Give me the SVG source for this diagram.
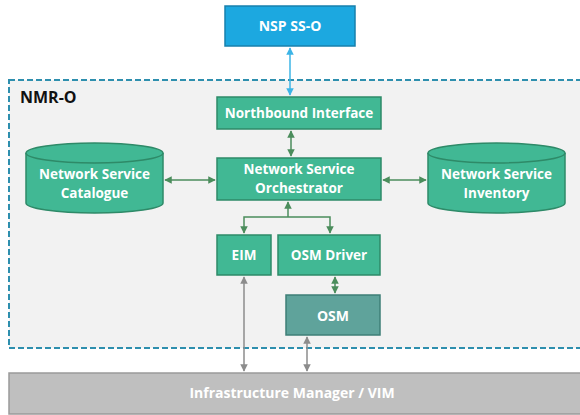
<svg xmlns="http://www.w3.org/2000/svg" width="580" height="415" viewBox="0 0 580 415">
<defs>
<style>
.box{fill:#41b894;stroke:#2e8a68;stroke-width:1.5}
.t{font-family:"Open Sans","Liberation Sans",sans-serif;font-weight:bold;font-size:13.5px;fill:#ffffff;text-anchor:middle}
.g{fill:none;stroke:#4b8d5c;stroke-width:1.5}
.gr{fill:none;stroke:#8c8c8c;stroke-width:1.5}
.bl{fill:none;stroke:#3cb4e6;stroke-width:1.5}
</style>
<marker id="ag" viewBox="0 0 10 10" refX="9" refY="5" markerWidth="5" markerHeight="5" orient="auto-start-reverse"><path d="M0,0L10,5L0,10z" fill="#4b8d5c"/></marker>
<marker id="agr" viewBox="0 0 10 10" refX="9" refY="5" markerWidth="5" markerHeight="5" orient="auto-start-reverse"><path d="M0,0L10,5L0,10z" fill="#8c8c8c"/></marker>
<marker id="abl" viewBox="0 0 10 10" refX="9" refY="5" markerWidth="5" markerHeight="5" orient="auto-start-reverse"><path d="M0,0L10,5L0,10z" fill="#3cb4e6"/></marker>
</defs>
<rect width="580" height="415" fill="#ffffff"/>
<g id="nmr-o">
<rect x="9" y="80" width="580" height="268" fill="#f2f2f2" stroke="#2e8fae" stroke-width="2" stroke-dasharray="6,3"/>
<text x="20" y="103" font-family="Open Sans, Liberation Sans, sans-serif" font-weight="bold" font-size="16" fill="#111111">NMR-O</text>
</g>
<g id="vim">
<rect x="9" y="373" width="580" height="41" fill="#bfbfbf" stroke="#9a9a9a" stroke-width="1.5"/>
<text class="t" x="292" y="398" style="font-size:14px" fill="#f4f4f4">Infrastructure Manager / VIM</text>
</g>
<g id="connectors">
<line class="bl" x1="290" y1="48" x2="290" y2="95" marker-start="url(#abl)" marker-end="url(#abl)"/>
<line class="g" x1="291" y1="131" x2="291" y2="156" marker-start="url(#ag)" marker-end="url(#ag)"/>
<line class="g" x1="165" y1="180" x2="215" y2="180" marker-start="url(#ag)" marker-end="url(#ag)"/>
<line class="g" x1="383" y1="180" x2="426" y2="180" marker-start="url(#ag)" marker-end="url(#ag)"/>
<line class="g" x1="288" y1="217" x2="288" y2="202" marker-end="url(#ag)"/>
<polyline class="g" points="244,233 244,217 330,217 330,233" marker-start="url(#ag)" marker-end="url(#ag)"/>
<line class="g" x1="335" y1="277" x2="335" y2="293" marker-start="url(#ag)" marker-end="url(#ag)"/>
<line class="gr" x1="244" y1="277" x2="244" y2="371" marker-start="url(#agr)" marker-end="url(#agr)"/>
<line class="gr" x1="307" y1="337" x2="307" y2="371" marker-start="url(#agr)" marker-end="url(#agr)"/>
</g>
<g id="nsp-sso">
<rect x="225" y="6" width="130" height="40" fill="#1ca8e0" stroke="#1780ad" stroke-width="1.5"/>
<text class="t" x="290" y="31" style="font-size:14px">NSP SS-O</text>
</g>
<g id="northbound-interface">
<rect class="box" x="217" y="97" width="164" height="32"/>
<text class="t" x="299" y="118">Northbound Interface</text>
</g>
<g id="nso">
<rect class="box" x="217" y="158" width="164" height="42"/>
<text class="t" x="299" y="174">Network Service</text>
<text class="t" x="299" y="193">Orchestrator</text>
</g>
<g id="catalogue">
<path class="box" d="M26,153 L26,203 A68.5,10 0 0 0 163,203 L163,153"/>
<ellipse class="box" cx="94.5" cy="153" rx="68.5" ry="10"/>
<text class="t" x="94.5" y="179">Network Service</text>
<text class="t" x="94.5" y="198">Catalogue</text>
</g>
<g id="inventory">
<path class="box" d="M428,153 L428,203 A68.5,10 0 0 0 565,203 L565,153"/>
<ellipse class="box" cx="496.5" cy="153" rx="68.5" ry="10"/>
<text class="t" x="496.5" y="179">Network Service</text>
<text class="t" x="496.5" y="198">Inventory</text>
</g>
<g id="eim">
<rect class="box" x="217" y="235" width="54" height="40"/>
<text class="t" x="244" y="260">EIM</text>
</g>
<g id="osm-driver">
<rect class="box" x="278" y="235" width="102" height="40"/>
<text class="t" x="329" y="260">OSM Driver</text>
</g>
<g id="osm">
<rect x="286" y="295" width="94" height="40" fill="#5fa39b" stroke="#3e7f77" stroke-width="1.5"/>
<text class="t" x="333" y="321" style="font-size:14px">OSM</text>
</g>
</svg>
